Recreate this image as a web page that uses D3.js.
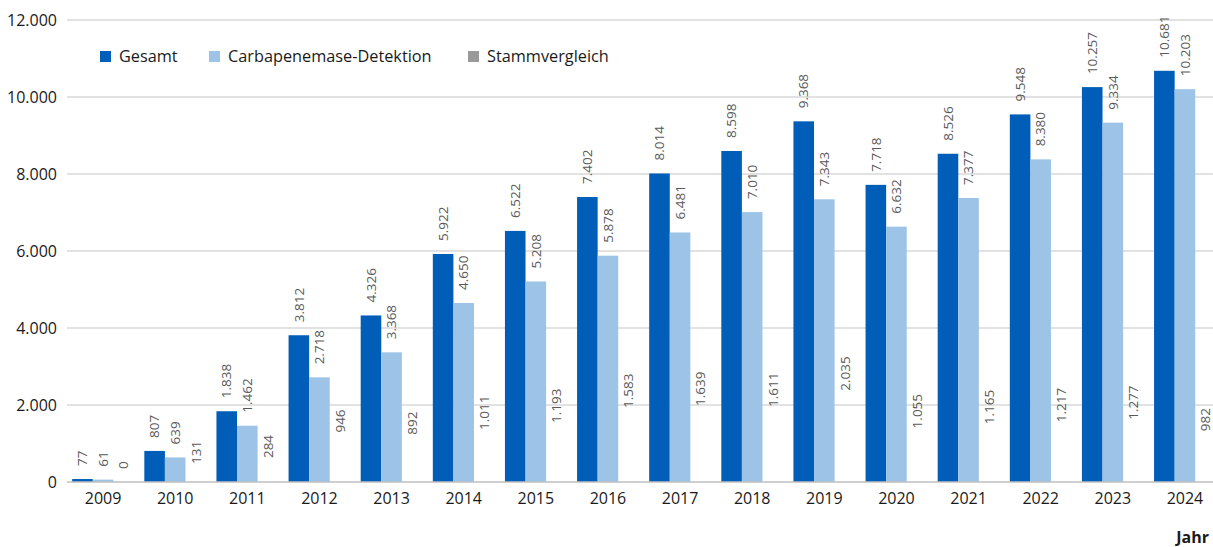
<!DOCTYPE html>
<html>
<head>
<meta charset="utf-8">
<script src="https://cdn.jsdelivr.net/npm/d3@7"></script>
<style>
  body { margin: 0; background: #fff; }
  svg { display: block; font-family: "Open Sans", sans-serif; }
  .tick-label { font-size: 16px; fill: #1a1a1a; }
  .value-label { font-size: 13.5px; fill: #595959; }
  .legend-label { font-size: 16.3px; fill: #1a1a1a; }
</style>
</head>
<body>
<svg id="chart"></svg>
<script>
var years = ["2009","2010","2011","2012","2013","2014","2015","2016","2017","2018","2019","2020","2021","2022","2023","2024"];
var gesamt = [77, 807, 1838, 3812, 4326, 5922, 6522, 7402, 8014, 8598, 9368, 7718, 8526, 9548, 10257, 10681];
var carba = [61, 639, 1462, 2718, 3368, 4650, 5208, 5878, 6481, 7010, 7343, 6632, 7377, 8380, 9334, 10203];
var stamm = [0, 131, 284, 946, 892, 1011, 1193, 1583, 1639, 1611, 2035, 1055, 1165, 1217, 1277, 982];
var seriesNames = ["Gesamt", "Carbapenemase-Detektion", "Stammvergleich"];
var yTicks = [0, 2000, 4000, 6000, 8000, 10000, 12000];

var W = 1213, H = 547;
var margin = {top: 20, right: -8, bottom: 65, left: 67};
var width = W - margin.left - margin.right,
    height = H - margin.top - margin.bottom;

var colors = ["#005eb8", "#9dc3e6", "#999999"];
var barFill = ["#005eb8", "#9dc3e6", "none"]; // Stammvergleich bars are not drawn in the original

var fmt = function(v){ return d3.format(",")(v).replace(/,/g, "."); };

var svg = d3.select("#chart").attr("width", W).attr("height", H);
var g = svg.append("g").attr("transform", "translate(" + margin.left + "," + margin.top + ")");

var x = d3.scaleBand().domain(years).range([0, width]).paddingInner(0.144).paddingOuter(0.072);
var x1 = d3.scaleBand().domain(d3.range(3)).range([0, x.bandwidth()]);
var y = d3.scaleLinear().domain([0, 12000]).range([height, 0]);

//Gridlines
g.selectAll(".grid").data(yTicks.slice(1)).enter().append("line")
  .attr("x1", 0).attr("x2", W)
  .attr("y1", function(d){ return y(d); }).attr("y2", function(d){ return y(d); })
  .style("stroke", "#d9d9d9").style("stroke-width", 1.3);

//Y tick labels
g.selectAll(".ylab").data(yTicks).enter().append("text")
  .attr("class", "tick-label")
  .attr("x", -10).attr("y", function(d){ return y(d); })
  .attr("dy", "0.35em").attr("text-anchor", "end")
  .text(fmt);

var data = years.map(function(yr, i){ return {year: yr, values: [gesamt[i], carba[i], stamm[i]]}; });

var groups = g.selectAll(".year").data(data).enter().append("g")
  .attr("transform", function(d){ return "translate(" + x(d.year) + ",0)"; });

groups.selectAll("rect").data(function(d){ return d.values; }).enter().append("rect")
  .attr("x", function(d, i){ return x1(i); })
  .attr("width", x1.bandwidth())
  .attr("y", function(d){ return y(d); })
  .attr("height", function(d){ return height - y(d); })
  .style("fill", function(d, i){ return barFill[i]; });

groups.selectAll(".value-label").data(function(d){ return d.values; }).enter().append("text")
  .attr("class", "value-label")
  .attr("transform", function(d, i){
    return "translate(" + (x1(i) + x1.bandwidth() / 2) + "," + (y(d) - 13) + ") rotate(-90)";
  })
  .attr("dy", "0.35em")
  .text(fmt);

//Baseline
g.append("line")
  .attr("x1", 0).attr("x2", W)
  .attr("y1", height).attr("y2", height)
  .style("stroke", "#bfbfbf").style("stroke-width", 1.5);

//X labels
g.selectAll(".xlab").data(years).enter().append("text")
  .attr("class", "tick-label")
  .attr("x", function(d){ return x(d) + x.bandwidth() / 2; })
  .attr("y", height + 22)
  .attr("text-anchor", "middle")
  .text(function(d){ return d; });

//Axis title
svg.append("text")
  .attr("x", 1209).attr("y", 543)
  .attr("text-anchor", "end")
  .style("font-size", "16px").style("font-weight", "bold").style("fill", "#1a1a1a")
  .text("Jahr");

//Legend
var legendX = [100, 209, 468];
var legend = svg.selectAll(".legend").data(seriesNames).enter().append("g")
  .attr("transform", function(d, i){ return "translate(" + legendX[i] + ",51)"; });
legend.append("rect").attr("width", 11).attr("height", 11)
  .style("fill", function(d, i){ return colors[i]; });
legend.append("text").attr("class", "legend-label")
  .attr("x", 19).attr("y", 5.5).attr("dy", "0.35em")
  .text(function(d){ return d; });
</script>
</body>
</html>
